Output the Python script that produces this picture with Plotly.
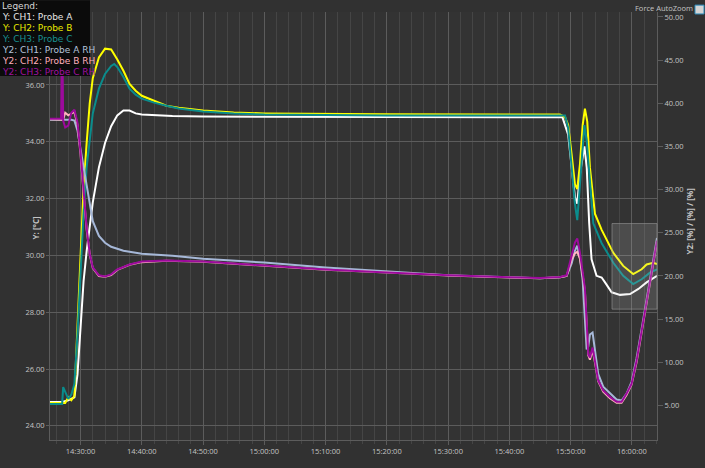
import plotly.graph_objects as go

DAY = "2023-01-01 "

# ---- Temperature series (left axis, °C) ----
white_t = ["14:25:00","14:27:00","14:28:00","14:29:00","14:29:30","14:30:00","14:30:30","14:31:00","14:31:30","14:32:00",
           "14:33:00","14:34:00","14:35:00","14:36:00","14:37:00","14:38:00","14:39:00","14:40:00","14:45:00","14:50:00",
           "15:00:00","15:20:00","15:40:00","15:48:40","15:49:36","15:50:10","15:50:42","15:51:05","15:51:31","15:52:15",
           "15:52:38","15:53:02","15:53:25","15:54:14","15:55:04","15:55:37","15:56:42","15:58:04","15:59:42","16:01:04",
           "16:02:24","16:04:06"]
white_v = [24.84,24.84,24.9,25.0,25.8,27.55,29.1,30.15,30.94,31.87,
           33.1,33.96,34.55,34.93,35.1,35.1,35.0,34.96,34.91,34.89,
           34.88,34.87,34.87,34.86,34.25,33.09,32.05,31.82,32.86,33.84,
           33.09,31.13,29.86,29.28,29.22,29.05,28.7,28.61,28.64,28.82,
           29.05,29.28]

yellow_t = ["14:25:00","14:27:30","14:28:00","14:28:30","14:29:00","14:29:30","14:30:00","14:30:30","14:31:00","14:31:30",
            "14:32:00","14:33:00","14:34:00","14:35:00","14:36:00","14:37:00","14:38:00","14:39:00","14:40:00","14:42:00",
            "14:44:00","14:46:00","14:50:00","14:55:00","15:00:00","15:20:00","15:40:00","15:48:16","15:49:05","15:49:36",
            "15:50:10","15:50:42","15:51:05","15:51:31","15:51:58","15:52:20","15:52:43","15:53:09","15:53:58","15:55:04",
            "15:56:58","15:58:35","16:00:13","16:01:36","16:02:24","16:03:29","16:04:06"]
yellow_v = [24.8,24.8,25.0,24.9,25.05,27.55,30.32,32.4,33.96,35.35,
            36.24,36.97,37.28,37.25,36.9,36.5,36.04,35.8,35.62,35.45,
            35.27,35.2,35.1,35.03,35.0,34.97,34.97,34.96,34.87,34.59,
            33.55,32.51,32.34,33.2,34.59,35.17,34.71,33.09,31.47,30.9,
            30.09,29.63,29.34,29.51,29.68,29.74,29.7]

teal_t = ["14:25:00","14:27:00","14:27:10","14:27:40","14:28:00","14:28:30","14:29:00","14:29:30","14:30:00","14:30:30",
          "14:31:00","14:31:30","14:32:00","14:33:00","14:34:00","14:35:00","14:35:30","14:36:00","14:37:00","14:38:00",
          "14:39:00","14:40:00","14:42:00","14:44:00","14:46:00","14:50:00","14:55:00","15:00:00","15:20:00","15:40:00",
          "15:49:05","15:49:36","15:50:10","15:50:42","15:51:05","15:51:31","15:51:58","15:52:15","15:52:38","15:53:09",
          "15:53:42","15:55:04","15:56:58","15:58:35","16:00:13","16:01:36","16:02:57","16:04:06"]
teal_v = [24.77,24.77,25.36,25.1,24.95,25.1,25.47,27.2,29.63,31.5,
          33.1,34.1,35.0,35.87,36.39,36.67,36.74,36.63,36.28,35.87,
          35.66,35.52,35.38,35.27,35.17,35.07,35.0,34.96,34.93,34.93,
          34.93,34.48,33.09,31.82,31.24,32.51,34.02,34.59,34.02,32.51,
          31.13,30.43,29.74,29.28,28.99,29.16,29.39,29.51]

# ---- Relative humidity series (right axis, %) ----
blue_t = ["14:25:00","14:28:30","14:29:00","14:29:30","14:30:00","14:30:30","14:31:00","14:31:30","14:32:00","14:33:00",
          "14:34:00","14:35:00","14:37:00","14:40:00","14:45:00","14:50:00","15:00:00","15:10:00","15:20:00","15:30:00",
          "15:40:00","15:45:00","15:48:16","15:49:21","15:50:10","15:50:42","15:51:05","15:51:31","15:51:58","15:52:20",
          "15:52:37","15:52:53","15:53:09","15:53:35","15:53:58","15:54:30","15:55:19","15:56:25","15:57:30","15:58:19",
          "15:59:08","15:59:57","16:00:46","16:01:36","16:02:24","16:03:14","16:04:06"]
blue_v = [38.1,38.1,37.99,36.85,34.68,32.63,30.34,28.06,26.35,24.63,
          23.84,23.38,22.92,22.58,22.35,22.0,21.55,20.98,20.53,20.07,
          19.84,19.73,19.84,20.0,21.44,22.92,23.5,22.12,19.5,15.5,
          11.5,11.85,13.22,13.45,11.16,8.65,7.17,6.37,5.68,5.57,
          6.37,7.74,10.48,13.9,17.33,20.75,24.4]

pink_t = ["14:25:00","14:27:10","14:27:30","14:28:00","14:28:30","14:29:00","14:29:30","14:30:00","14:30:30","14:31:00",
          "14:31:30","14:32:00","14:33:00","14:34:00","14:35:00","14:36:00","14:38:00","14:40:00","14:44:00","14:50:00",
          "14:55:00","15:00:00","15:10:00","15:20:00","15:30:00","15:40:00","15:45:00","15:48:16","15:49:21","15:50:10",
          "15:50:42","15:51:05","15:51:31","15:51:58","15:52:20","15:52:37","15:52:53","15:53:09","15:53:35","15:53:58",
          "15:54:30","15:55:19","15:56:25","15:57:30","15:58:19","15:59:08","15:59:57","16:00:46","16:01:36","16:02:24",
          "16:03:14","16:04:06"]
pink_v = [38.15,38.1,38.9,38.6,38.8,39.0,37.5,34.1,29.6,25.4,
          22.5,20.9,20.0,19.9,20.1,20.7,21.3,21.6,21.75,21.65,
          21.42,21.2,20.73,20.4,20.05,19.82,19.74,19.85,20.0,21.9,
          22.6,22.8,22.0,20.1,18.2,14.4,10.8,10.3,11.4,10.0,
          7.8,6.6,5.85,5.3,5.3,6.2,7.4,10.0,13.4,16.9,
          20.3,24.0]

purple_t = ["14:25:00","14:26:50","14:26:55","14:27:05","14:27:10","14:27:30","14:28:00","14:28:30","14:29:00","14:29:30",
            "14:30:00","14:30:30","14:31:00","14:31:30","14:32:00","14:33:00","14:34:00","14:35:00","14:36:00","14:38:00",
            "14:40:00","14:44:00","14:50:00","14:55:00","15:00:00","15:10:00","15:20:00","15:30:00","15:40:00","15:45:00",
            "15:48:16","15:49:21","15:50:10","15:50:42","15:51:05","15:51:31","15:51:58","15:52:20","15:52:37","15:52:53",
            "15:53:09","15:53:35","15:53:58","15:54:30","15:55:19","15:56:25","15:57:30","15:58:19","15:59:08","15:59:57",
            "16:00:46","16:01:36","16:02:24","16:03:14","16:04:06"]
purple_v = [38.2,38.2,44.0,44.0,38.0,37.2,37.4,38.9,39.25,37.76,
            34.34,29.77,25.55,22.58,20.98,20.07,19.95,20.18,20.75,21.32,
            21.67,21.78,21.67,21.44,21.21,20.75,20.41,20.07,19.84,19.76,
            19.87,20.07,22.35,23.87,24.33,22.73,20.45,18.55,14.74,10.94,
            10.56,11.7,10.17,7.89,6.75,5.99,5.42,5.42,6.37,7.51,
            10.17,13.6,17.02,20.45,24.1]

left_ticks = [24, 26, 28, 30, 32, 34, 36]
right_ticks = [5, 10, 15, 20, 25, 30, 35, 40, 45, 50]

series = [
    ("Y: CH1: Probe A", white_t, white_v, "#ffffff", "y", "#e6e6e6"),
    ("Y: CH2: Probe B", yellow_t, yellow_v, "#ffff00", "y", "#e8e800"),
    ("Y: CH3: Probe C", teal_t, teal_v, "#0a8c8c", "y", "#1a9090"),
    ("Y2: CH1: Probe A RH", blue_t, blue_v, "#a6b8d8", "y2", "#b4c4dc"),
    ("Y2: CH2: Probe B RH", pink_t, pink_v, "#ffb4c0", "y2", "#ffb0bc"),
    ("Y2: CH3: Probe C RH", purple_t, purple_v, "#9c0a9c", "y2", "#a010a0"),
]

GRID = "#5c5c5c"
MINOR = "#454545"
TXT = "#c4c4c4"
LEGEND_FONT = "DejaVu Sans"

fig = go.Figure()
for name, t, v, col, ax, _ in series:
    fig.add_trace(go.Scatter(x=[DAY + s for s in t], y=v, name=name, mode="lines",
                             line=dict(color=col, width=2), yaxis=ax))

L, R, T, B = 50, 48, 12, 21
PW, PH = 705 - L - R, 468 - T - B


def px(xp):
    return (xp - L) / PW


def py(yp):
    return (468 - B - yp) / PH


fig.update_layout(
    width=705, height=468,
    margin=dict(l=L, r=R, t=T, b=B),
    paper_bgcolor="#313131", plot_bgcolor="#333333",
    showlegend=False,
    font=dict(family="Open Sans", size=8, color=TXT),
    xaxis=dict(type="date", range=[DAY + "14:25:01", DAY + "16:04:06"],
               tick0=DAY + "14:30:00", dtick=600000, tickformat="%H:%M:%S",
               showgrid=True, gridcolor=GRID, gridwidth=1, zeroline=False,
               ticks="outside", ticklen=4, tickcolor=GRID,
               showline=True, linecolor=GRID, linewidth=1,
               tickfont=dict(size=7.5, color=TXT),
               minor=dict(tick0=DAY + "14:30:00", dtick=120000, showgrid=True, gridcolor=MINOR,
                          ticks="outside", ticklen=3, tickcolor=MINOR)),
    yaxis=dict(range=[23.5, 38.57], tickvals=left_ticks,
               ticktext=["%.2f" % v for v in left_ticks],
               showgrid=True, gridcolor=GRID, zeroline=False,
               ticks="outside", ticklen=3, tickcolor=GRID,
               showline=True, linecolor=GRID, tickfont=dict(size=7.5, color=TXT)),
    yaxis2=dict(range=[1.0, 50.57], tickvals=right_ticks,
                ticktext=["%.2f" % v for v in right_ticks],
                overlaying="y", side="right", showgrid=False, zeroline=False,
                ticks="outside", ticklen=5, tickcolor=GRID,
                showline=True, linecolor=GRID, tickfont=dict(size=7.5, color=TXT)),
)

shapes = [
    # zoom selection rectangle
    dict(type="rect", xref="paper", yref="paper", x0=px(612), x1=1.0, y0=py(314), y1=py(227),
         fillcolor="rgba(200,200,200,0.17)", line=dict(color="rgba(150,150,150,0.6)", width=1), layer="above"),
    # legend background
    dict(type="rect", xref="paper", yref="paper", x0=px(0), x1=px(90), y0=py(77), y1=py(0),
         fillcolor="#0b0b0b", line=dict(width=0), layer="above"),
    # checkbox
    dict(type="rect", xref="paper", yref="paper", x0=px(695), x1=px(704), y0=py(14), y1=py(5),
         fillcolor="#d4d4d4", line=dict(color="#2f8fc0", width=1), layer="above"),
]
fig.update_layout(shapes=shapes)

ann = [dict(text="Legend:", xref="paper", yref="paper", x=px(1), y=py(6), xanchor="left", yanchor="middle",
            showarrow=False, borderpad=0, font=dict(family=LEGEND_FONT, size=9, color="#d8d8d8"))]
for i, (name, _, _, _, _, tcol) in enumerate(series):
    ann.append(dict(text=name, xref="paper", yref="paper", x=px(1), y=py(17.2 + 11.17 * i),
                    xanchor="left", yanchor="middle", showarrow=False, borderpad=0,
                    font=dict(family=LEGEND_FONT, size=9, color=tcol)))
ann += [
    dict(text="Force AutoZoom", xref="paper", yref="paper", x=px(694), y=py(7.5), xanchor="right",
         yanchor="middle", showarrow=False, borderpad=0, font=dict(size=7.5, color=TXT)),
    dict(text="<b>Y: [°C]</b>", xref="paper", yref="paper", x=px(35), y=py(231), textangle=-90,
         xanchor="center", yanchor="middle", showarrow=False, font=dict(size=8, color=TXT)),
    dict(text="<b>Y2: [%] / [%] / [%]</b>", xref="paper", yref="paper", x=px(690), y=py(225), textangle=-90,
         xanchor="center", yanchor="middle", showarrow=False, font=dict(size=8, color=TXT)),
]
fig.update_layout(annotations=ann)

fig.write_html("out.html", config={"displayModeBar": False},
               post_script="document.body.style.margin='0px';")
